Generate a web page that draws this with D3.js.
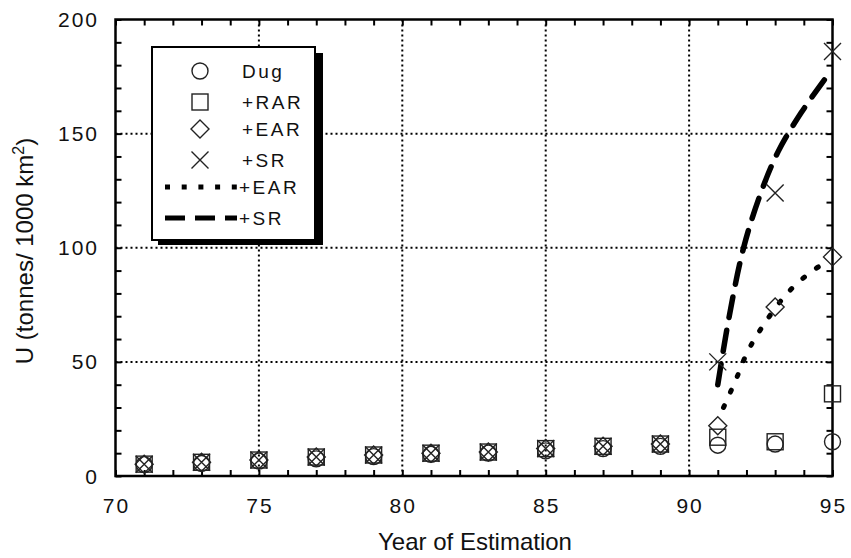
<!DOCTYPE html>
<html><head><meta charset="utf-8">
<script src="https://cdn.jsdelivr.net/npm/d3@7"></script>
<style>body{margin:0;background:#fff}text{font-family:"Liberation Sans",Arial,sans-serif;fill:#111}</style>
</head><body>
<svg id="c" width="851" height="558"></svg>
<script>
const years = [71,73,75,77,79,81,83,85,87,89,91,93,95];
const dug = [5,5.5,6.5,7.5,8.5,9.5,10,11,12,13,13.5,14,15];
const rar = [5.2,6,7,8.3,9.2,10,10.5,12,13,14,17,15,36];
const ear = [5.2,6,7,8.3,9.2,10,10.5,12,13,14,22,74,96];
const sr  = [5.2,6,7,8.3,9.2,10,10.5,12,13,14,50,124,186];
const earFitX = [91.2,91.45,91.7,91.9,92.2,92.55,93.3,93.9,94.45,94.75];
const earFitY = [30,37,44,51,58.5,65.5,79,86,91.5,93];
const srFitX = [91,91.4,91.9,92.5,93.1,93.9,94.8];
const srFitY = [40,70,100,124,142,159,175];
const xTicks = [70,75,80,85,90,95];
const yTicks = [0,50,100,150,200];
const legendItems = ["Dug","+RAR","+EAR","+SR","+EAR","+SR"];

const svg = d3.select("#c");
const L=115.5,R=832.5,T=19.5,B=476;
const x = d3.scaleLinear().domain([70,95]).range([L,R]);
const y = d3.scaleLinear().domain([0,200]).range([B,T]);

// grid
const g = svg.append("g");
g.selectAll(".gx").data(xTicks.slice(1,-1)).enter().append("line")
 .attr("x1",d=>x(d)).attr("x2",d=>x(d)).attr("y1",T).attr("y2",B)
 .attr("stroke","#000").attr("stroke-width",2).attr("stroke-dasharray","2,3");
g.selectAll(".gy").data(yTicks.slice(1,-1)).enter().append("line")
 .attr("y1",d=>y(d)).attr("y2",d=>y(d)).attr("x1",L).attr("x2",R)
 .attr("stroke","#000").attr("stroke-width",2).attr("stroke-dasharray","2,3");

// axes (ticks inward on all sides)
const ax = svg.append("g");
ax.append("g").attr("transform",`translate(0,${B})`)
 .call(d3.axisBottom(x).tickValues(d3.range(70,96)).tickSize(-6).tickFormat(""));
ax.append("g").attr("transform",`translate(0,${T})`)
 .call(d3.axisTop(x).tickValues(d3.range(70,96)).tickSize(-6).tickFormat(""));
ax.append("g").attr("transform",`translate(${L},0)`)
 .call(d3.axisLeft(y).tickValues(d3.range(0,201,10)).tickSize(-6).tickFormat(""));
ax.append("g").attr("transform",`translate(${R},0)`)
 .call(d3.axisRight(y).tickValues(d3.range(0,201,10)).tickSize(-6).tickFormat(""));
ax.selectAll(".domain").remove();
ax.selectAll(".tick line").attr("stroke","#000").attr("stroke-width",2);
svg.append("rect").attr("x",L).attr("y",T).attr("width",R-L).attr("height",B-T)
 .attr("fill","none").attr("stroke","#000").attr("stroke-width",2.5);

// tick labels
svg.selectAll(".xl").data(xTicks).enter().append("text")
 .attr("x",d=>x(d)+1).attr("y",513).attr("text-anchor","middle")
 .attr("font-size",21).attr("letter-spacing",2).text(d=>d);
svg.selectAll(".yl").data(yTicks).enter().append("text")
 .attr("x",99).attr("y",d=>y(d)+7.5).attr("text-anchor","end")
 .attr("font-size",21).attr("letter-spacing",2).text(d=>d);

// fit lines
const line = d3.line().curve(d3.curveBasis);
const lineS = d3.line().curve(d3.curveCatmullRom.alpha(0.5));
svg.append("path").attr("d",line(earFitX.map((d,i)=>[x(d),y(earFitY[i])])))
 .attr("fill","none").attr("stroke","#000").attr("stroke-width",5).attr("stroke-dasharray","2,15").attr("stroke-linecap","round");
svg.append("path").attr("d",lineS(srFitX.map((d,i)=>[x(d),y(srFitY[i])])))
 .attr("fill","none").attr("stroke","#000").attr("stroke-width",5.5).attr("stroke-dasharray","21,13").attr("stroke-linecap","round");

// symbols
function drawSym(sel,type,cx,cy){
  const s = sel.append("g").attr("transform",`translate(${cx},${cy})`);
  let el;
  if(type===0) el=s.append("circle").attr("r",8);
  else if(type===1) el=s.append("rect").attr("x",-8).attr("y",-8).attr("width",16).attr("height",16);
  else if(type===2) el=s.append("path").attr("d","M0,-9L9,0L0,9L-9,0Z");
  else el=s.append("path").attr("d","M-8.5,-8.5L8.5,8.5M-8.5,8.5L8.5,-8.5");
  el.attr("fill","none").attr("stroke","#222").attr("stroke-width",1.4);
}
const series=[dug,rar,ear,sr];
const pts = svg.append("g");
series.forEach((arr,si)=>{
  years.forEach((yr,i)=>drawSym(pts,si,x(yr),y(arr[i])));
});

// legend
const lg = svg.append("g");
lg.append("rect").attr("x",158).attr("y",53).attr("width",165).attr("height",192).attr("fill","#000");
lg.append("rect").attr("x",152).attr("y",47).attr("width",163).attr("height",193).attr("fill","#fff").attr("stroke","#000").attr("stroke-width",2);
const rowsY=[71,102,129,160,187,218];
legendItems.forEach((t,i)=>{
  if(i<4) drawSym(lg,i,200,rowsY[i]);
  else {
    lg.append("line").attr("x1",165).attr("x2",237).attr("y1",rowsY[i]).attr("y2",rowsY[i])
      .attr("stroke","#000").attr("stroke-width",5)
      .attr("stroke-dasharray",i===4?"5,11.7":"20,10");
  }
  lg.append("text").attr("x",i<4?242:239).attr("y",rowsY[i]+7).attr("font-size",19)
    .attr("letter-spacing",2.5).text(t);
});

// titles
svg.append("text").attr("x",475).attr("y",550).attr("text-anchor","middle").attr("font-size",24).text("Year of Estimation");
const yt = svg.append("text").attr("transform",`translate(33,251) rotate(-90)`).attr("text-anchor","middle").attr("font-size",24);
yt.append("tspan").text("U (tonnes/ 1000 km");
yt.append("tspan").attr("dy",-9).attr("font-size",16).text("2");
yt.append("tspan").attr("dy",9).text(")");
</script>
</body></html>
